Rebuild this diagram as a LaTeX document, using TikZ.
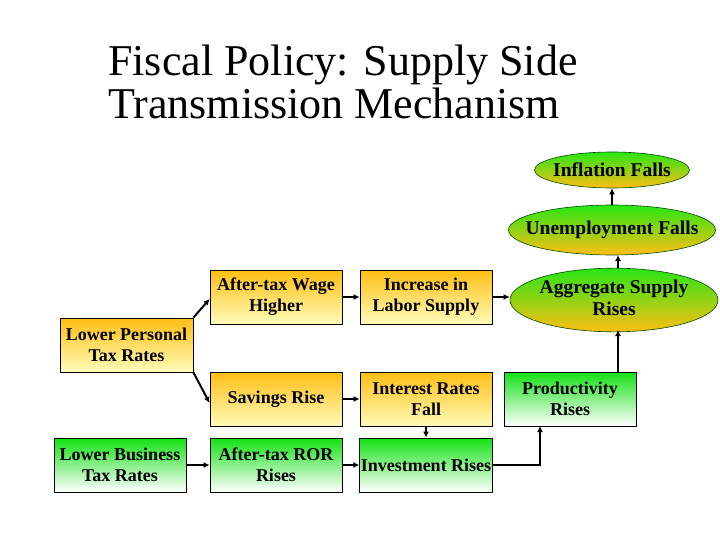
\documentclass[tikz,border=0pt]{standalone}
\usepackage{fontspec}
\setmainfont{Liberation Serif}
\usetikzlibrary{shapes.geometric,arrows.meta}
\definecolor{ortop}{RGB}{255,190,20}
\definecolor{orbot}{RGB}{255,252,185}
\definecolor{grtop}{RGB}{20,225,20}
\definecolor{grbot}{RGB}{255,255,255}
\definecolor{eltop}{RGB}{40,230,20}
\definecolor{elmid}{RGB}{205,228,10}
\definecolor{elbot}{RGB}{255,190,20}
\newcommand{\elltext}[1]{\makebox[100pt][c]{\begin{tabular}{@{}c@{}}#1\end{tabular}}}
\tikzset{
  box/.style={draw=black, line width=0.8pt, minimum width=132pt, minimum height=54pt,
    inner sep=1pt, align=center, font=\bfseries\fontsize{18}{21}\selectfont},
  obox/.style={box, top color=ortop, bottom color=orbot},
  gbox/.style={box, top color=grtop, bottom color=grbot},
  ell/.style={ellipse, draw=black!70!green, line width=0.6pt, inner sep=0pt,
    top color=eltop, middle color=elmid, bottom color=elbot,
    font=\bfseries\fontsize{19.5}{23}\selectfont},
  conn/.style={line width=2pt, -{Latex[length=6pt,width=6pt]}}
}
\begin{document}
\begin{tikzpicture}[x=1pt,y=-1pt]
\useasboundingbox (0,0) rectangle (720,540);
\node[anchor=base west, font=\fontsize{44}{43}\selectfont, align=left, inner sep=0pt] (title) at (108,119)
  {Fiscal Policy: Supply Side\\Transmission Mechanism};
\node[obox, minimum width=133pt] (lp) at (126.5,345) {Lower Personal\\Tax Rates};
\node[gbox] (lb) at (120,465) {Lower Business\\Tax Rates};
\node[obox] (wage) at (276,297) {After-tax Wage\\Higher};
\node[obox] (sav) at (276,399) {Savings Rise};
\node[gbox] (ror) at (276,465) {After-tax ROR\\Rises};
\node[obox] (labor) at (426,297) {Increase in\\Labor Supply};
\node[obox] (irf) at (426,399) {Interest Rates\\Fall};
\node[gbox] (inv) at (426,465) {Investment Rises};
\node[gbox] (prod) at (570,399) {Productivity\\Rises};
\node[ell, minimum width=208pt, minimum height=60pt] (as) at (614,300)
  {\elltext{Aggregate Supply\\[-1pt]Rises}};
\node[ell, minimum width=207pt, minimum height=50pt] (un) at (612,230) {\elltext{Unemployment Falls}};
\node[ell, minimum width=155pt, minimum height=36pt] (inf) at (612,170) {\makebox[80pt][c]{Inflation Falls}};
\coordinate (pa) at (618,372);
\coordinate (pb) at (540,426);
\draw[conn] (lp.north east) -- ([yshift=-2pt]wage.west);
\draw[conn] (lp.south east) -- ([yshift=-4pt]sav.west);
\draw[conn] (lb) -- (ror);
\draw[conn] (wage) -- (labor);
\draw[conn] (labor.east) -- (as.west |- labor.east);
\draw[conn] (sav) -- (irf);
\draw[conn] (ror) -- (inv);
\draw[conn] (irf) -- (inv);
\draw[conn] (inv.east) -| (pb);
\draw[conn] (pa) -- (618,330);
\draw[conn] (as.north -| 618,0) -- (618,255);
\draw[conn] (un) -- (inf);
\end{tikzpicture}
\end{document}
